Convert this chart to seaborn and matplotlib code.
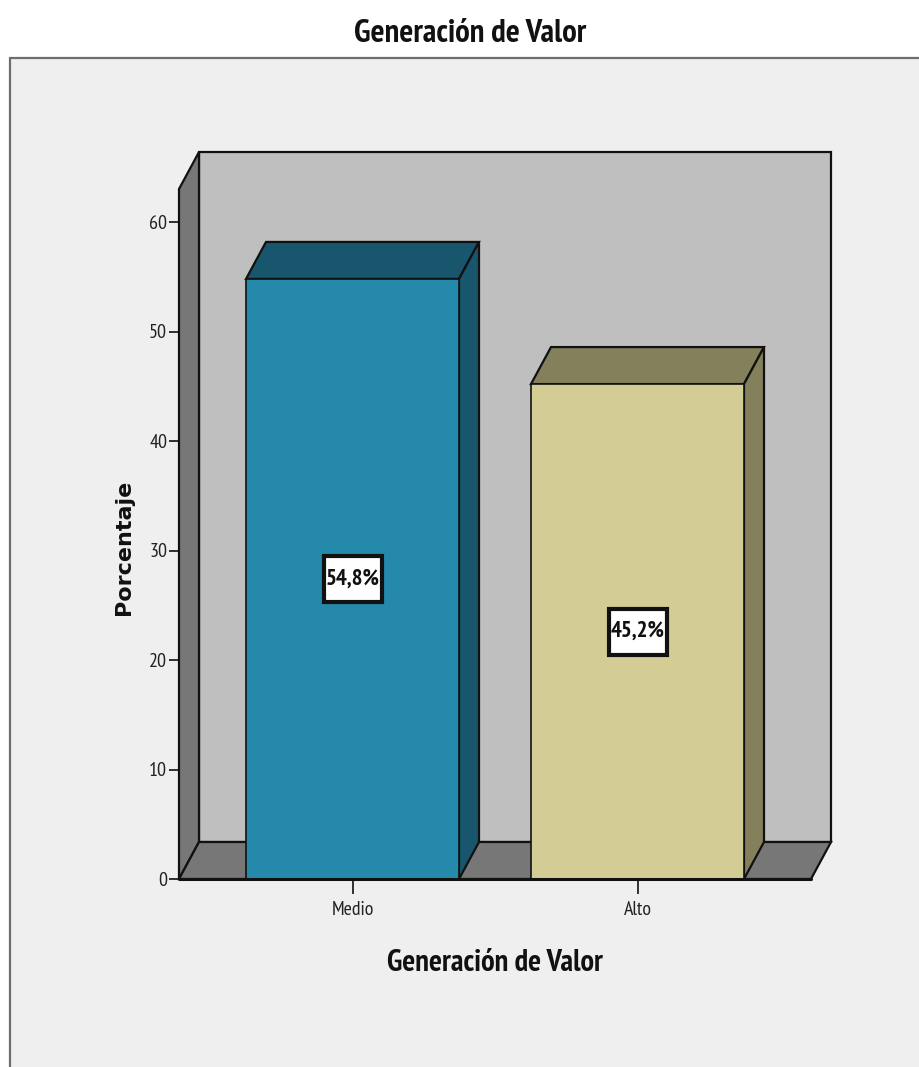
import matplotlib
matplotlib.use("Agg")
import matplotlib.pyplot as plt
from matplotlib.patches import Polygon, Rectangle
from matplotlib import font_manager as fm
import pandas as pd
import seaborn as sns

categories = ["Medio", "Alto"]
percentages = [54.8, 45.2]
value_labels = ["54,8%", "45,2%"]
front_colors = ["#2589ac", "#d3cd95"]
shade_colors = ["#17566c", "#85805c"]
y_ticks = [0, 10, 20, 30, 40, 50, 60]

W, H = 919, 1067
PANEL = "#efefef"
WALL = "#bfbfbf"
SIDE = "#777777"

sns.set_theme(style="white")
installed = {f.name for f in fm.fontManager.ttflist}
narrow = next((n for n in ("PT Sans Narrow", "Pragati Narrow", "Liberation Sans Narrow", "Liberation Sans")
               if n in installed), "DejaVu Sans")
plt.rcParams["font.family"] = [narrow, "DejaVu Sans"]

fig = plt.figure(figsize=(W / 100, H / 100), dpi=100, facecolor="white")

# Light panel with a grey frame on its top and left edges
panel = fig.add_axes([0, 0, 1, 1], zorder=0)
panel.set_xlim(0, W)
panel.set_ylim(H, 0)
panel.axis("off")
panel.add_patch(Rectangle((10, 58), W - 10, H - 58, facecolor=PANEL, edgecolor="none"))
panel.plot([10, 10, W], [H, 58, 58], color="#6e6e6e", lw=1.6, solid_joinstyle="miter")

# Plot area: 10.95 px per percentage point, 285 px between categories
left, right, bottom, top = 179, 831, 879, 152
ax = fig.add_axes([left / W, 1 - bottom / H, (right - left) / W, (bottom - top) / H], zorder=1)
ax.patch.set_alpha(0)
ymax = (bottom - top) / 10.95
xlo = (left - 352.5) / 285
xhi = (right - 352.5) / 285
dx = 20 / 285
dy = 37 / 10.95
bar_w = 213 / 285
floor_right = xhi - dx

# Back wall, side wall and floor of the box
edge = dict(edgecolor="#111111", lw=1.6, joinstyle="miter", clip_on=False)
ax.add_patch(Polygon([(xlo + dx, dy), (xhi, dy), (xhi, ymax), (xlo + dx, ymax)], facecolor=WALL, zorder=1, **edge))
ax.add_patch(Polygon([(xlo, 0), (xlo + dx, dy), (xlo + dx, ymax), (xlo, ymax - dy)], facecolor=SIDE, zorder=1.1, **edge))
ax.add_patch(Polygon([(xlo, 0), (floor_right, 0), (xhi, dy), (xlo + dx, dy)], facecolor=SIDE, zorder=1.2, **edge))

# Front faces of the bars
frame = pd.DataFrame({"categoria": categories, "porcentaje": percentages})
sns.barplot(
    data=frame, x="categoria", y="porcentaje", hue="categoria",
    palette=dict(zip(categories, front_colors)), width=bar_w,
    edgecolor="#111111", linewidth=1.2, legend=False, ax=ax, zorder=3, saturation=1,
)

# Top and right faces give each bar its depth
half = bar_w / 2
for i, (value, shade, label) in enumerate(zip(percentages, shade_colors, value_labels)):
    x0, x1 = i - half, i + half
    ax.add_patch(Polygon([(x0, value), (x1, value), (x1 + dx, value + dy), (x0 + dx, value + dy)],
                         facecolor=shade, zorder=2.5, **edge))
    ax.add_patch(Polygon([(x1, 0), (x1 + dx, dy), (x1 + dx, value + dy), (x1, value)],
                         facecolor=shade, zorder=2.5, **edge))
    # Value label in a framed white box at mid height of the bar
    bw, bh = 29 / 285, 23 / 10.95
    ax.add_patch(Rectangle((i - bw, value / 2 - bh), 2 * bw, 2 * bh, facecolor="white",
                           edgecolor="#111111", lw=3, zorder=4, joinstyle="miter"))
    ax.text(i, value / 2, label, ha="center", va="center", fontsize=16.5,
            fontweight="bold", color="#111111", zorder=5)

ax.set_xlim(xlo, xhi)
ax.set_ylim(0, ymax)
sns.despine(ax=ax, left=True, bottom=True, top=True, right=True)
ax.plot([xlo, floor_right], [0, 0], color="#111111", lw=2.2, zorder=6, clip_on=False)

ax.set_yticks(y_ticks)
ax.set_yticklabels([str(t) for t in y_ticks])
ax.set_xticks(range(len(categories)))
ax.set_xticklabels(categories)
ax.tick_params(axis="y", length=7.5, width=1.3, color="#222222", labelsize=14.5, labelcolor="#222222", pad=1, left=True)
ax.tick_params(axis="x", length=11, width=1.3, color="#222222", labelsize=14.3, labelcolor="#222222", pad=4.5, bottom=True)
ax.set_xlabel("")
ax.set_ylabel("")

fig.text(470 / W, 1 - 34 / H, "Generación de Valor", ha="center", va="center",
         fontsize=23.6, fontweight="bold", color="#111111")
fig.text(494.5 / W, 1 - 963 / H, "Generación de Valor", ha="center", va="center",
         fontsize=22, fontweight="bold", color="#111111")
fig.text(124 / W, 1 - 547 / H, "Porcentaje", ha="center", va="center", rotation=90,
         fontsize=16, fontweight="bold", color="#111111", family="DejaVu Sans")

fig.savefig("out.png", dpi=100, facecolor="white")
